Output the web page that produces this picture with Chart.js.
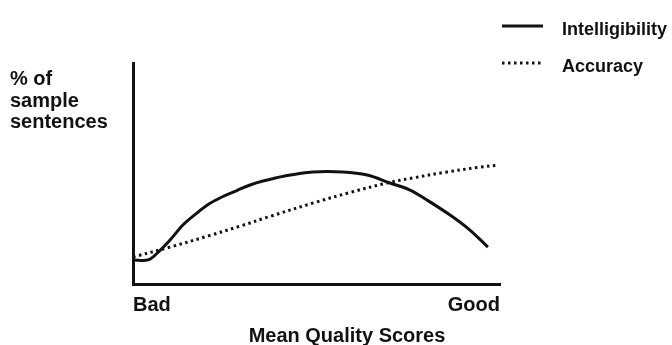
<!DOCTYPE html>
<html>
<head>
<meta charset="utf-8">
<script src="https://cdn.jsdelivr.net/npm/chart.js@4/dist/chart.umd.min.js"></script>
<style>
  html, body { margin: 0; padding: 0; background: #fff; }
  #wrap { width: 672px; height: 345px; position: relative; }
</style>
</head>
<body>
<div id="wrap"><canvas id="c"></canvas></div>
<script>
// Mean quality score position (0 = Bad, 100 = Good) and % of sample sentences
const intelX = [0, 4.1, 6.5, 10.1, 13.6, 17.4, 21.0, 24.5, 28.3, 31.9, 35.4, 41.4, 49.0, 57.2, 63.8, 70.0, 75.5, 80.1, 86.4, 91.8, 96.7];
const intelY = [10.9, 10.9, 13.8, 19.9, 26.7, 32.1, 36.5, 39.6, 42.3, 44.8, 46.6, 48.9, 50.7, 50.7, 49.3, 45.7, 42.5, 38.0, 31.2, 24.4, 16.7];
const accX = [0, 10.1, 21.0, 29.2, 36.8, 49.6, 59.1, 69.2, 76.3, 85.6, 94.6, 99.5];
const accY = [12.2, 16.7, 22.0, 26.2, 30.3, 36.9, 41.4, 45.7, 48.0, 50.7, 52.9, 53.8];
const xTickValues = [0, 100];
const xTickLabels = ['Bad', 'Good'];
const yTitleLines = ['% of', 'sample', 'sentences'];
const xTitle = 'Mean Quality Scores';
const seriesNames = ['Intelligibility', 'Accuracy'];

const toPts = (xs, ys) => xs.map((x, i) => ({x: x, y: ys[i]}));
const FONT = '"Liberation Sans", Arial, sans-serif';

const textPlugin = {
  id: 'textPlugin',
  afterDraw(chart) {
    const ctx = chart.ctx;
    ctx.save();
    ctx.fillStyle = '#111';
    ctx.textAlign = 'left';
    ctx.textBaseline = 'alphabetic';
    ctx.font = 'bold 20px ' + FONT;
    const yBase = [85, 107, 128];
    yTitleLines.forEach((t, i) => ctx.fillText(t, 10, yBase[i]));
    ctx.textAlign = 'center';
    ctx.fillText(xTitle, 347, 342);
    // legend
    ctx.textAlign = 'left';
    ctx.font = 'bold 18px ' + FONT;
    const legY = [26, 63];
    const legBase = [35, 72];
    chart.data.datasets.forEach((ds, i) => {
      ctx.save();
      ctx.strokeStyle = ds.borderColor;
      ctx.lineWidth = ds.borderWidth;
      ctx.setLineDash(ds.borderDash || []);
      ctx.beginPath();
      ctx.moveTo(502, legY[i]);
      ctx.lineTo(543, legY[i]);
      ctx.stroke();
      ctx.restore();
      ctx.fillText(ds.label, 562, legBase[i]);
    });
    ctx.restore();
  }
};

new Chart(document.getElementById('c'), {
  type: 'line',
  data: {
    datasets: [
      {
        label: seriesNames[0],
        data: toPts(intelX, intelY),
        borderColor: '#111',
        borderWidth: 3,
        pointRadius: 0,
        tension: 0.35,
        fill: false
      },
      {
        label: seriesNames[1],
        data: toPts(accX, accY),
        borderColor: '#111',
        borderWidth: 3,
        borderDash: [2.5, 3.5],
        pointRadius: 0,
        tension: 0.35,
        fill: false
      }
    ]
  },
  options: {
    responsive: true,
    maintainAspectRatio: false,
    animation: false,
    layout: { padding: { left: 133, right: 172, top: 63, bottom: 19 } },
    plugins: { legend: { display: false }, tooltip: { enabled: false } },
    scales: {
      x: {
        type: 'linear',
        min: 0,
        max: 100,
        grid: { display: false, drawTicks: false },
        border: { display: true, color: '#111', width: 3 },
        afterBuildTicks: (s) => { s.ticks = xTickValues.map(v => ({value: v})); },
        ticks: {
          align: 'inner',
          padding: 9,
          color: '#111',
          font: { family: FONT, size: 20, weight: 'bold' },
          callback: (v) => xTickLabels[xTickValues.indexOf(v)] || ''
        }
      },
      y: {
        min: 0,
        max: 100,
        grid: { display: false, drawTicks: false },
        border: { display: true, color: '#111', width: 3 },
        ticks: { display: false }
      }
    }
  },
  plugins: [textPlugin]
});
</script>
</body>
</html>
